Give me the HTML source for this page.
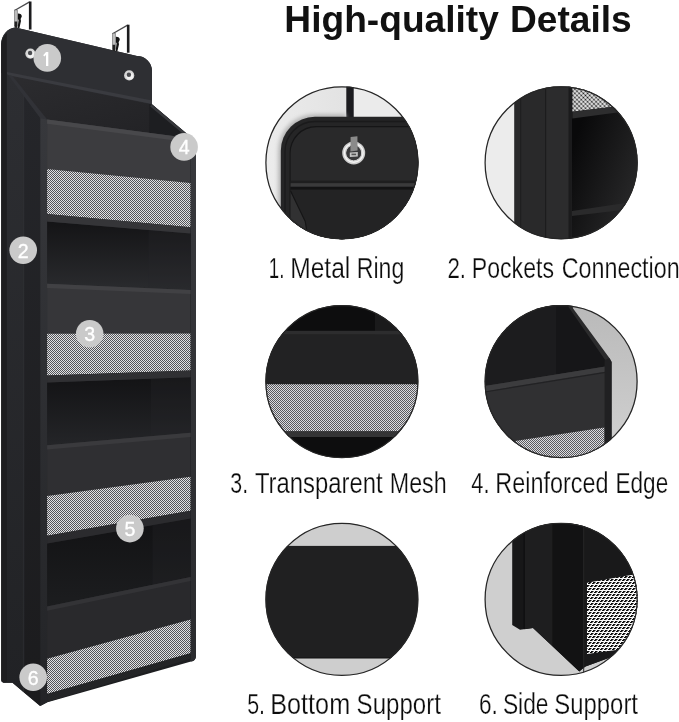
<!DOCTYPE html>
<html><head><meta charset="utf-8"><title>High-quality Details</title>
<style>
html,body{margin:0;padding:0;background:#fff;}
body{width:679px;height:722px;overflow:hidden;font-family:"Liberation Sans",sans-serif;}
svg{display:block;}
</style></head><body>
<svg width="679" height="722" viewBox="0 0 679 722">
<defs>
<pattern id="mesh" width="2" height="2" patternUnits="userSpaceOnUse"><rect width="2" height="2" fill="#e2e2e4"/><rect width="1" height="1" fill="#535458"/><rect x="1" y="1" width="1" height="1" fill="#535458"/></pattern>
<pattern id="mesh2" width="3" height="3" patternUnits="userSpaceOnUse" patternTransform="rotate(45)"><rect width="3" height="3" fill="#f4f4f4"/><circle cx="1.5" cy="1.5" r="1.1" fill="#141414"/></pattern>
<pattern id="mesh3" width="2" height="2" patternUnits="userSpaceOnUse"><rect width="2" height="2" fill="#dcdce0"/><rect width="1" height="1" fill="#5a5a5e"/><rect x="1" y="1" width="1" height="1" fill="#5a5a5e"/></pattern>
<pattern id="mesh6" width="4" height="6" patternUnits="userSpaceOnUse"><rect width="4" height="6" fill="#fafafa"/><g fill="#0e0e0e" shape-rendering="crispEdges"><rect x="1" y="0" width="1" height="1"/><rect x="2" y="0" width="1" height="1"/><rect x="0" y="1" width="1" height="1"/><rect x="1" y="1" width="1" height="1"/><rect x="3" y="3" width="1" height="1"/><rect x="0" y="3" width="1" height="1"/><rect x="2" y="4" width="1" height="1"/><rect x="3" y="4" width="1" height="1"/></g><g fill="#8a8a8a" shape-rendering="crispEdges"><rect x="3" y="0" width="1" height="1"/><rect x="2" y="1" width="1" height="1"/><rect x="1" y="3" width="1" height="1"/><rect x="0" y="4" width="1" height="1"/></g></pattern>
<linearGradient id="gside" x1="0" y1="0" x2="0" y2="1"><stop offset="0" stop-color="#2c2d31"/><stop offset="1" stop-color="#1d1e20"/></linearGradient>
<linearGradient id="gsideA" x1="0" y1="0" x2="0" y2="1"><stop offset="0" stop-color="#2d2e32"/><stop offset="1" stop-color="#212225"/></linearGradient>
<linearGradient id="gsideB" x1="0" y1="0" x2="0" y2="1"><stop offset="0" stop-color="#25262a"/><stop offset="1" stop-color="#1b1b1d"/></linearGradient>
<linearGradient id="gbind" x1="0" y1="0" x2="0" y2="1"><stop offset="0" stop-color="#37383c"/><stop offset="1" stop-color="#232427"/></linearGradient>
<linearGradient id="gright" x1="0" y1="0" x2="0" y2="1"><stop offset="0" stop-color="#38393d"/><stop offset="1" stop-color="#2a2b2e"/></linearGradient>
<linearGradient id="gint1" x1="0" y1="0" x2="1" y2="1"><stop offset="0" stop-color="#2c2c2f"/><stop offset="1" stop-color="#212124"/></linearGradient>
<linearGradient id="go2" x1="0" y1="0" x2="0" y2="1"><stop offset="0" stop-color="#141416"/><stop offset="1" stop-color="#2a2b2e"/></linearGradient>
<linearGradient id="go3" x1="0" y1="0" x2="0" y2="1"><stop offset="0" stop-color="#131315"/><stop offset="1" stop-color="#242528"/></linearGradient>
<linearGradient id="go4" x1="0" y1="0" x2="0" y2="1"><stop offset="0" stop-color="#121214"/><stop offset="1" stop-color="#1c1d1f"/></linearGradient>
<linearGradient id="gc1bg" x1="0" y1="0" x2="1" y2="0"><stop offset="0" stop-color="#ececec"/><stop offset="0.5" stop-color="#e3e3e3"/></linearGradient>
<filter id="blur2" x="-20%" y="-20%" width="140%" height="140%"><feGaussianBlur stdDeviation="2.2"/></filter>
<linearGradient id="gc2int" x1="0" y1="0.1" x2="1" y2="0.9"><stop offset="0.15" stop-color="#09090a"/><stop offset="0.8" stop-color="#252526"/></linearGradient>
<linearGradient id="gc4bg" x1="0" y1="0" x2="0" y2="1"><stop offset="0" stop-color="#b9b9b9"/><stop offset="1" stop-color="#d2d2d2"/></linearGradient>
<clipPath id="c1"><circle cx="341.9" cy="162.8" r="76.5"/></clipPath><clipPath id="c2"><circle cx="561.1" cy="162.8" r="76.5"/></clipPath><clipPath id="c3"><circle cx="341.9" cy="381.6" r="76.5"/></clipPath><clipPath id="c4"><circle cx="561.1" cy="381.6" r="76.5"/></clipPath><clipPath id="c5"><circle cx="341.9" cy="599.4" r="76.5"/></clipPath><clipPath id="c6"><circle cx="561.1" cy="599.4" r="76.5"/></clipPath>
<filter id="ident" x="0" y="0" width="679" height="722" filterUnits="userSpaceOnUse"><feOffset dx="0" dy="0"/></filter>
</defs>
<rect width="679" height="722" fill="#fff"/>
<g id="organizer">
<path d="M1.2,44 A15,16.5 0 0 1 15.5,27.6 L137,56 A15,15 0 0 1 152,71 L152,104.3 L192,138 L196.0,142 L196.0,655.5 Q196.0,661 191,661.5 L47.5,702.2 L40,706 L12.5,682.8 L3.5,682.8 Q1.2,682 1.2,680 Z" fill="url(#gside)"/>
<path d="M1.2,44 A15,16.5 0 0 1 15.5,27.6 L137,56 A15,15 0 0 1 152,71 L152,104 L7,73 L1.2,73 Z" fill="#2e2f33"/>
<polygon points="8,75 152,104.5 192,138.5 47.1,119.6" fill="url(#gint1)"/>
<polygon points="149.3,104 152,104.6 191.5,138.2 149.3,134.5" fill="#1d1e21"/>
<polygon points="151.5,104.3 192,138 190,139.5 150.3,106.5" fill="#36373b"/>
<polygon points="7,72 152,100.6 152,104 7,75" fill="#3a3b40"/>
<polygon points="6.8,74 8.5,75 24,95 24,692.5 12.5,682.8 6.8,682.8" fill="url(#gsideA)"/>
<polygon points="24,95 40.4,116 40.4,706 24,692.5" fill="url(#gsideB)"/>
<rect x="22.8" y="95" width="1.6" height="597" fill="#303135" opacity="0.55"/>
<path d="M1.2,44 A15,16.5 0 0 1 6.8,33 L6.8,682.8 L3.5,682.8 Q1.2,682 1.2,680 Z" fill="#1e1e20"/>
<polygon points="40.4,116.5 47.1,119.6 47.1,702.3 40.4,706" fill="url(#gbind)"/>
<polygon points="8,75 12.5,76 47.1,119.6 40.4,118.3" fill="#313237"/>
<path d="M190.5,138 L192,138 L196.0,142 L196.0,655.5 Q196.0,661 191,661.5 L190.5,661 Z" fill="url(#gright)"/>
<rect x="189.7" y="139" width="1.3" height="520" fill="#1c1d20" opacity="0.8"/>
<polygon points="47.1,221.5 190.5,233.4 190.5,289.9 47.1,283.8" fill="url(#go2)"/>
<polygon points="148.5,229.9 190.5,233.4 190.5,289.9 148.5,288.1" fill="#26272a" opacity="0.28"/>
<polygon points="47.1,382.5 190.5,377.3 190.5,432.7 47.1,445.3" fill="url(#go3)"/>
<polygon points="150.8,378.7 190.5,377.3 190.5,432.7 150.8,436.2" fill="#26272a" opacity="0.28"/>
<polygon points="47.1,543.4 190.5,518.5 190.5,576.9 47.1,606.5" fill="url(#go4)"/>
<polygon points="152.5,525.1 190.5,518.5 190.5,576.9 152.5,584.7" fill="#26272a" opacity="0.28"/>
<polygon points="47.1,119.6 190.5,138.2 190.5,183.0 47.1,169.0" fill="#3c3c3f"/>
<polygon points="47.1,119.6 190.5,138.2 190.5,142.4 47.1,123.8" fill="#48484b"/>
<polygon points="47.1,169.0 190.5,183.0 190.5,227.2 47.1,213.9" fill="url(#mesh)"/>
<polygon points="47.1,213.9 190.5,227.2 190.5,233.4 47.1,221.5" fill="#353538"/>
<polygon points="47.1,283.8 190.5,289.9 190.5,333.6 47.1,333.7" fill="#363639"/>
<polygon points="47.1,283.8 190.5,289.9 190.5,294.1 47.1,288.0" fill="#414144"/>
<polygon points="47.1,333.7 190.5,333.6 190.5,370.4 47.1,375.4" fill="url(#mesh)"/>
<polygon points="47.1,375.4 190.5,370.4 190.5,377.3 47.1,382.5" fill="#303033"/>
<polygon points="47.1,445.3 190.5,432.7 190.5,476.8 47.1,496.0" fill="#2f2f32"/>
<polygon points="47.1,445.3 190.5,432.7 190.5,436.9 47.1,449.5" fill="#3a3a3d"/>
<polygon points="47.1,496.0 190.5,476.8 190.5,510.8 47.1,535.7" fill="url(#mesh)"/>
<polygon points="47.1,535.7 190.5,510.8 190.5,518.5 47.1,543.4" fill="#2b2b2e"/>
<polygon points="47.1,606.5 190.5,576.9 190.5,619.6 47.1,658.8" fill="#29292c"/>
<polygon points="47.1,606.5 190.5,576.9 190.5,581.1 47.1,610.7" fill="#333336"/>
<polygon points="47.1,658.8 190.5,619.6 190.5,653.3 47.1,694.0" fill="url(#mesh)"/>
<polygon points="47.1,694.0 190.5,653.3 190.5,658.8 47.1,701.9" fill="#242527"/>
<g transform="translate(0,0)">
<path d="M15,10.3 L29.6,1.9" fill="none" stroke="#4a4a4c" stroke-width="1.3"/>
<rect x="28.9" y="1.5" width="2.6" height="28" fill="#1b1b1d"/>
<rect x="14.4" y="10" width="2.9" height="16" fill="#bdbdbd" stroke="#555" stroke-width="0.5"/>
<path d="M14.6,21.5 L17.2,21.5 L17.2,28 L14.6,27.5 Z" fill="#222"/>
<path d="M17.9,13.6 Q21.8,13.5 21.8,16.5 L20.6,19 L21,21 L19.4,28 L17.6,28 L18.6,20 L17.9,19 Z" fill="#141414"/>
</g>
<g transform="translate(98,23.2)">
<path d="M15,10.3 L29.6,1.9" fill="none" stroke="#4a4a4c" stroke-width="1.3"/>
<rect x="28.9" y="1.5" width="2.6" height="28" fill="#1b1b1d"/>
<rect x="14.4" y="10" width="2.9" height="16" fill="#bdbdbd" stroke="#555" stroke-width="0.5"/>
<path d="M14.6,21.5 L17.2,21.5 L17.2,28 L14.6,27.5 Z" fill="#222"/>
<path d="M17.9,13.6 Q21.8,13.5 21.8,16.5 L20.6,19 L21,21 L19.4,28 L17.6,28 L18.6,20 L17.9,19 Z" fill="#141414"/>
</g>
<circle cx="30.4" cy="53.6" r="5.1" fill="#d6d6d6"/><circle cx="31.0" cy="54.4" r="3.4" fill="#f2f2f2"/><circle cx="30.099999999999998" cy="53.0" r="2.2" fill="#4a4b4f"/>
<circle cx="129.2" cy="75.4" r="5.1" fill="#d6d6d6"/><circle cx="129.79999999999998" cy="76.2" r="3.4" fill="#f2f2f2"/><circle cx="128.89999999999998" cy="74.80000000000001" r="2.2" fill="#4a4b4f"/>
<g filter="url(#ident)">
<circle cx="47.3" cy="57.9" r="13.8" fill="#cacaca"/>
<path transform="translate(0.0,0.0)" d="M46.0,52.1 L48.3,52.1 L48.3,66 L46.0,66 L46.0,54.9 L44.3,56.6 L43.2,55.2 Z" fill="#fff"/>
<circle cx="23.2" cy="250.2" r="13.8" fill="#cacaca"/>
<text x="23.2" y="257.59999999999997" font-family="Liberation Sans" font-size="19.6" fill="#fff" stroke="#fff" stroke-width="0.35" text-anchor="middle">2</text>
<circle cx="89.7" cy="333.7" r="13.8" fill="#cacaca"/>
<text x="89.7" y="341.09999999999997" font-family="Liberation Sans" font-size="19.6" fill="#fff" stroke="#fff" stroke-width="0.35" text-anchor="middle">3</text>
<circle cx="184.1" cy="146.9" r="13.8" fill="#cacaca"/>
<text x="184.1" y="154.3" font-family="Liberation Sans" font-size="19.6" fill="#fff" stroke="#fff" stroke-width="0.35" text-anchor="middle">4</text>
<circle cx="129.9" cy="528.6" r="13.8" fill="#cacaca"/>
<text x="129.9" y="536.0" font-family="Liberation Sans" font-size="19.6" fill="#fff" stroke="#fff" stroke-width="0.35" text-anchor="middle">5</text>
<circle cx="33.2" cy="677.2" r="13.8" fill="#cacaca"/>
<text x="33.2" y="684.6" font-family="Liberation Sans" font-size="19.6" fill="#fff" stroke="#fff" stroke-width="0.35" text-anchor="middle">6</text>
</g>
</g>
<g id="details">
<g clip-path="url(#c1)">
<rect x="265.4" y="86.30000000000001" width="153.0" height="153.0" fill="url(#gc1bg)"/>
<rect x="353.7" y="86.30000000000001" width="80" height="40" fill="#ebebeb"/>
<rect x="346.3" y="86.30000000000001" width="7.4" height="40" fill="#1b1b1f"/>
<path d="M278.5,245 L278.5,151 A36,36 0 0 1 314.8,114.5 L346,114.5 L346,245 Z" fill="#b0b0b0" filter="url(#blur2)"/>
<path d="M280.8,245 L280.8,150.8 A34,34 0 0 1 314.8,116.8 L430,116.8 L430,245 Z" fill="#252526"/>
<path d="M285,245 L285,152 A30,30 0 0 1 315,121.5 L430,121.5" fill="none" stroke="#1a1a1b" stroke-width="1.3"/>
<path d="M289.6,245 L289.6,153 A26.5,26.5 0 0 1 316,126 L430,126 L430,245 Z" fill="#151516"/>
<path d="M290.6,245 L290.6,153.5 A26,26 0 0 1 316.5,127.2 L430,127.2 L430,245 Z" fill="#29292a"/>
<rect x="290.6" y="180.6" width="140" height="2.6" fill="#1e1e1f"/>
<rect x="290.6" y="183.2" width="140" height="3.6" fill="#3a3a3b"/>
<rect x="290.6" y="186.8" width="140" height="3" fill="#131314"/>
<rect x="290.6" y="189.8" width="140" height="70" fill="#232324"/>
<path d="M290.6,190.9 L305.3,221.6 L309,245 L290.6,245 Z" fill="#313132"/>
<path d="M290.6,190.9 L305.3,221.6 L309,245" fill="none" stroke="#151516" stroke-width="1.2"/>
<circle cx="353.7" cy="152.9" r="9.4" fill="none" stroke="#cdcdcd" stroke-width="4.2"/>
<circle cx="353.7" cy="152.9" r="9.4" fill="none" stroke="#f4f4f4" stroke-width="1.4"/>
<circle cx="353.7" cy="152.9" r="7.3" fill="#38383a"/>
<path d="M350.6,137 L357.4,136.2 L357.6,150.5 L350.4,151.5 Z" fill="#8a8a8a"/>
<path d="M349.8,152.5 L357.8,152 L357.8,156.6 L349.8,157 Z" fill="#c4c4c4"/>
<rect x="351.5" y="153.6" width="4.6" height="1.6" fill="#555"/>
</g>
<g clip-path="url(#c2)">
<rect x="484.6" y="86.30000000000001" width="153.0" height="153.0" fill="#ececec"/>
<rect x="514.2" y="86.30000000000001" width="130" height="153.0" fill="#29292a"/>
<rect x="545.6" y="86.30000000000001" width="26" height="153.0" fill="#2c2c2d"/>
<rect x="571.6" y="86.30000000000001" width="70" height="153.0" fill="url(#gc2int)"/>
<polygon points="572.4,86.30000000000001 640,86.30000000000001 640,103.5 572.4,111.8" fill="url(#mesh2)"/>
<polygon points="572.4,111.8 640,103.5 640,109.5 572.4,118.6" fill="#2d2d2e"/>
<polygon points="572,211 625,203 640,203 640,208 572,216" fill="#2a2a2b"/>
<rect x="520" y="86.30000000000001" width="1.2" height="153.0" fill="#1f1f20"/>
<rect x="545" y="86.30000000000001" width="1.2" height="153.0" fill="#1c1c1d"/>
<rect x="568.5" y="86.30000000000001" width="3" height="153.0" fill="#1b1b1c"/>
</g>
<g clip-path="url(#c3)">
<rect x="265.4" y="305.1" width="153.0" height="153.0" fill="#0d0d0e"/>
<rect x="375" y="305.1" width="60" height="30" fill="#1a1a1b"/>
<rect x="265.4" y="330.8" width="153.0" height="4" fill="#2d2d2e"/>
<rect x="265.4" y="334.5" width="153.0" height="50" fill="#222223"/>
<rect x="265.4" y="384.2" width="153.0" height="47.2" fill="url(#mesh3)"/>
<rect x="265.4" y="431.4" width="153.0" height="5.6" fill="#343435"/>
</g>
<g clip-path="url(#c4)">
<rect x="484.6" y="305.1" width="153.0" height="153.0" fill="url(#gc4bg)"/>
<polygon points="484.6,305.1 572.9,305.1 572.9,308.3 609.6,358.2 611.6,362 611.6,470 484.6,470" fill="#2b2b2c"/>
<polygon points="484.6,305.1 555.5,305.1 555.5,375 484.6,388" fill="#1c1c1e"/>
<polygon points="555.5,305.1 568.5,305.1 568.5,307 605.5,360.5 605.5,367 555.5,375" fill="#161618"/>
<polygon points="484.6,386.1 605.4,366.5 605.4,470 484.6,470" fill="#303032"/>
<polygon points="484.6,386.1 605.4,366.5 605.4,371.8 484.6,391.4" fill="#3c3c3e"/>
<polygon points="484.6,391.4 605.4,371.8 605.4,373 484.6,392.6" fill="#222224"/>
<polygon points="510,441.7 604.5,427.6 604.5,470 510,470" fill="url(#mesh3)"/>
<polygon points="604.6,360 609.6,358.2 611.6,362 611.6,470 604.6,470" fill="#202022"/>
</g>
<g clip-path="url(#c5)">
<rect x="265.4" y="522.9" width="153.0" height="153.0" fill="#cecece"/>
<rect x="265.4" y="545.9" width="153.0" height="112.3" fill="#202021"/>
<rect x="265.4" y="657.4" width="153.0" height="1" fill="#141415"/>
</g>
<g clip-path="url(#c6)">
<rect x="484.6" y="522.9" width="153.0" height="153.0" fill="#cfcfcf"/>
<polygon points="512.2,522.9 640,522.9 640,646.5 585.5,666.6 579.3,671.5 533,628 520,629.8 512.2,625" fill="#171718"/>
<polygon points="524.5,522.9 552.5,522.9 552.5,646.3 533,628 524.5,629.2" fill="#1e1e1f"/>
<polygon points="552.5,522.9 583.4,522.9 583.4,667.8 579.3,671.5 552.5,646.3" fill="#121213"/>
<polygon points="583.4,522.9 640,522.9 640,646.5 585.5,666.6 583.4,667.8" fill="#19191a"/>
<polygon points="587,582.8 640,573.5 640,646.7 587,653.9" fill="url(#mesh6)"/>
<rect x="523.6" y="522.9" width="1.2" height="106" fill="#0e0e0f"/>
<rect x="583.2" y="522.9" width="1.0" height="150" fill="#262627"/>
</g>
<circle cx="341.9" cy="162.8" r="76.0" fill="none" stroke="#262626" stroke-width="1.25"/>
<circle cx="561.1" cy="162.8" r="76.0" fill="none" stroke="#262626" stroke-width="1.25"/>
<circle cx="341.9" cy="381.6" r="76.0" fill="none" stroke="#262626" stroke-width="1.25"/>
<circle cx="561.1" cy="381.6" r="76.0" fill="none" stroke="#262626" stroke-width="1.25"/>
<circle cx="341.9" cy="599.4" r="76.0" fill="none" stroke="#262626" stroke-width="1.25"/>
<circle cx="561.1" cy="599.4" r="76.0" fill="none" stroke="#262626" stroke-width="1.25"/>
</g>
<g id="labels" filter="url(#ident)">
<text x="284.39" y="31.8" font-family="Liberation Sans" font-size="36.8" font-weight="bold" fill="#111" textLength="214.49" lengthAdjust="spacingAndGlyphs">High-quality</text>
<text x="509.99" y="31.8" font-family="Liberation Sans" font-size="36.8" font-weight="bold" fill="#111" textLength="121.78" lengthAdjust="spacingAndGlyphs">Details</text>
<text stroke="#fff" stroke-width="0.25" x="268.79" y="277.8" font-family="Liberation Sans" font-size="28.6" font-weight="normal" fill="#0c0c0c" textLength="15.68" lengthAdjust="spacingAndGlyphs">1.</text>
<text stroke="#fff" stroke-width="0.25" x="290.23" y="277.8" font-family="Liberation Sans" font-size="28.6" font-weight="normal" fill="#0c0c0c" textLength="60.07" lengthAdjust="spacingAndGlyphs">Metal</text>
<text stroke="#fff" stroke-width="0.25" x="356.75" y="277.8" font-family="Liberation Sans" font-size="28.6" font-weight="normal" fill="#0c0c0c" textLength="47.49" lengthAdjust="spacingAndGlyphs">Ring</text>
<text stroke="#fff" stroke-width="0.25" x="447.38" y="277.8" font-family="Liberation Sans" font-size="28.6" font-weight="normal" fill="#0c0c0c" textLength="18.61" lengthAdjust="spacingAndGlyphs">2.</text>
<text stroke="#fff" stroke-width="0.25" x="471.75" y="277.8" font-family="Liberation Sans" font-size="28.6" font-weight="normal" fill="#0c0c0c" textLength="82.21" lengthAdjust="spacingAndGlyphs">Pockets</text>
<text stroke="#fff" stroke-width="0.25" x="561.73" y="277.8" font-family="Liberation Sans" font-size="28.6" font-weight="normal" fill="#0c0c0c" textLength="117.96" lengthAdjust="spacingAndGlyphs">Connection</text>
<text stroke="#fff" stroke-width="0.25" x="230.34" y="492.9" font-family="Liberation Sans" font-size="28.6" font-weight="normal" fill="#0c0c0c" textLength="17.87" lengthAdjust="spacingAndGlyphs">3.</text>
<text stroke="#fff" stroke-width="0.25" x="254.92" y="492.9" font-family="Liberation Sans" font-size="28.6" font-weight="normal" fill="#0c0c0c" textLength="127.71" lengthAdjust="spacingAndGlyphs">Transparent</text>
<text stroke="#fff" stroke-width="0.25" x="389.74" y="492.9" font-family="Liberation Sans" font-size="28.6" font-weight="normal" fill="#0c0c0c" textLength="56.99" lengthAdjust="spacingAndGlyphs">Mesh</text>
<text stroke="#fff" stroke-width="0.25" x="471.26" y="492.9" font-family="Liberation Sans" font-size="28.6" font-weight="normal" fill="#0c0c0c" textLength="18.19" lengthAdjust="spacingAndGlyphs">4.</text>
<text stroke="#fff" stroke-width="0.25" x="495.33" y="492.9" font-family="Liberation Sans" font-size="28.6" font-weight="normal" fill="#0c0c0c" textLength="113.32" lengthAdjust="spacingAndGlyphs">Reinforced</text>
<text stroke="#fff" stroke-width="0.25" x="615.49" y="492.9" font-family="Liberation Sans" font-size="28.6" font-weight="normal" fill="#0c0c0c" textLength="52.73" lengthAdjust="spacingAndGlyphs">Edge</text>
<text stroke="#fff" stroke-width="0.25" x="247.14" y="713.8" font-family="Liberation Sans" font-size="28.6" font-weight="normal" fill="#0c0c0c" textLength="17.87" lengthAdjust="spacingAndGlyphs">5.</text>
<text stroke="#fff" stroke-width="0.25" x="270.18" y="713.8" font-family="Liberation Sans" font-size="28.6" font-weight="normal" fill="#0c0c0c" textLength="80.01" lengthAdjust="spacingAndGlyphs">Bottom</text>
<text stroke="#fff" stroke-width="0.25" x="356.62" y="713.8" font-family="Liberation Sans" font-size="28.6" font-weight="normal" fill="#0c0c0c" textLength="84.26" lengthAdjust="spacingAndGlyphs">Support</text>
<text stroke="#fff" stroke-width="0.25" x="478.97" y="713.8" font-family="Liberation Sans" font-size="28.6" font-weight="normal" fill="#0c0c0c" textLength="18.86" lengthAdjust="spacingAndGlyphs">6.</text>
<text stroke="#fff" stroke-width="0.25" x="502.88" y="713.8" font-family="Liberation Sans" font-size="28.6" font-weight="normal" fill="#0c0c0c" textLength="45.59" lengthAdjust="spacingAndGlyphs">Side</text>
<text stroke="#fff" stroke-width="0.25" x="554.33" y="713.8" font-family="Liberation Sans" font-size="28.6" font-weight="normal" fill="#0c0c0c" textLength="83.66" lengthAdjust="spacingAndGlyphs">Support</text>
</g>
</svg>
</body></html>
